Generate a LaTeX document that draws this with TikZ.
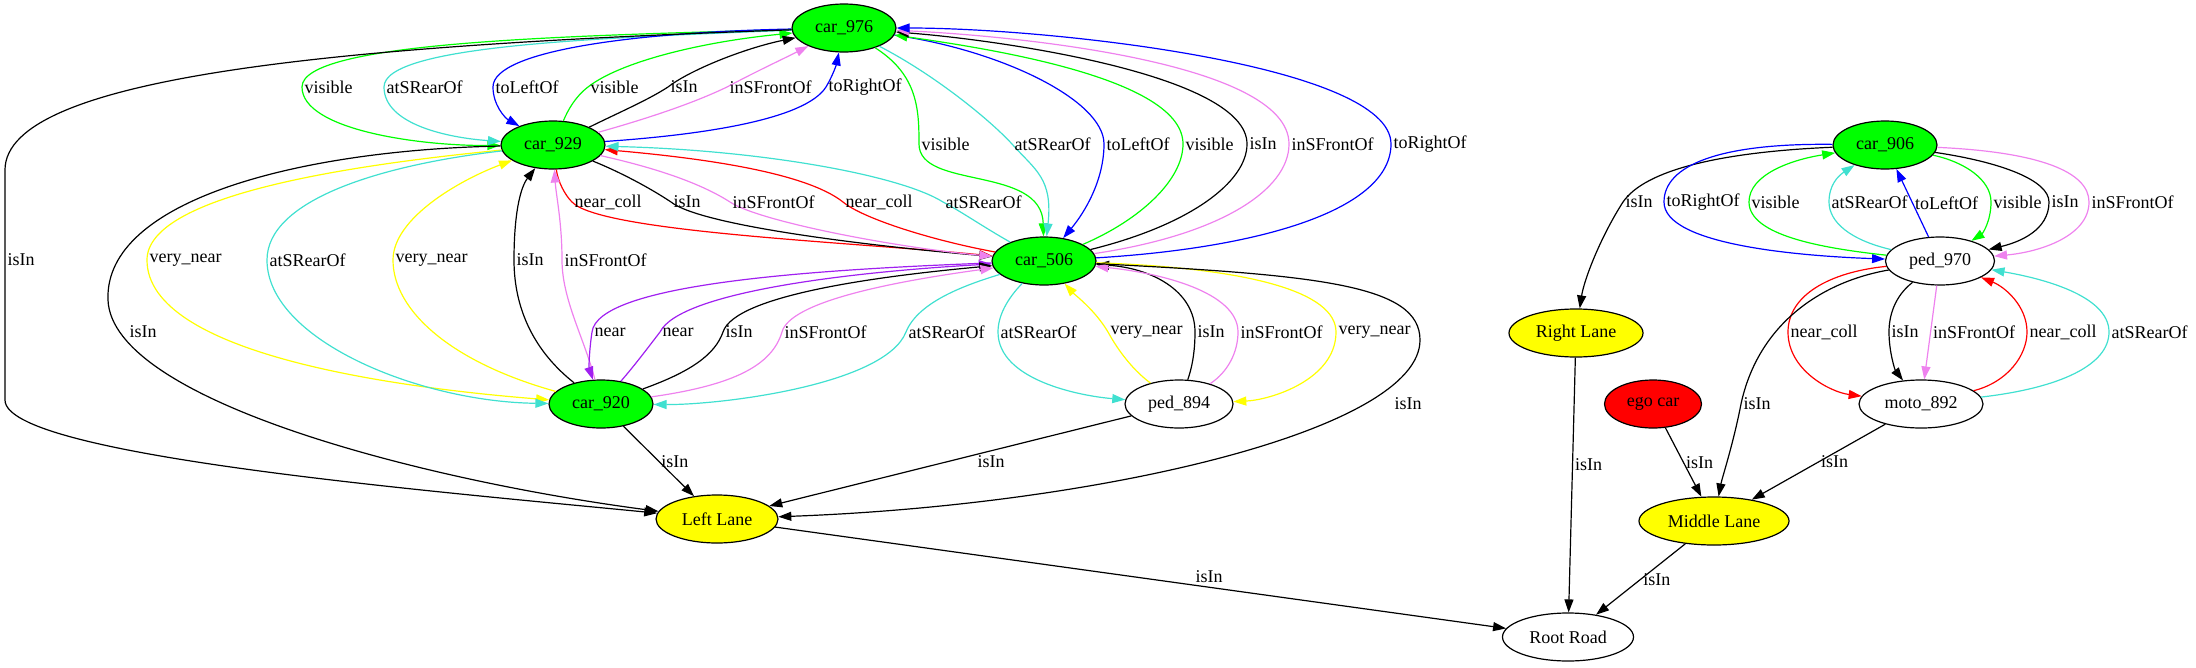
\documentclass[tikz,border=0pt]{standalone}
\usepackage{fontspec}
\setmainfont{Liberation Serif}
\usepackage{xcolor}
\usepackage{tikz}
\usetikzlibrary{shapes}
\usetikzlibrary{arrows.meta}
\definecolor{gvgreen}{HTML}{00FF00}
\definecolor{gvyellow}{HTML}{FFFF00}
\definecolor{gvred}{HTML}{FF0000}
\definecolor{gvblue}{HTML}{0000FF}
\definecolor{gvturq}{HTML}{40E0D0}
\definecolor{gvviolet}{HTML}{EE82EE}
\definecolor{gvpurple}{HTML}{A020F0}
\newcommand{\graphfont}{\fontsize{18}{20}\selectfont}
\tikzset{ scene_obj/.style = {ellipse, draw, line width=1.2pt, minimum height=48pt, inner sep=0pt, font=\graphfont} }
\tikzset{ car_obj/.style = {scene_obj, fill=gvgreen, minimum width=104pt} }
\tikzset{ lane_obj/.style = {scene_obj, fill=gvyellow} }
\tikzset{ rel_label/.style = {anchor=west, inner sep=2pt, text=black, font=\graphfont} }
\tikzset{ >={Triangle[length=13pt,width=9pt]}, every path/.style = {line width=1.2pt} }
\tikzset{ rel_isIn/.style = {black}, rel_visible/.style = {gvgreen}, rel_atSRearOf/.style = {gvturq},
  rel_toLeftOf/.style = {gvblue}, rel_toRightOf/.style = {gvblue}, rel_inSFrontOf/.style = {gvviolet},
  rel_near_coll/.style = {gvred}, rel_very_near/.style = {gvyellow}, rel_near/.style = {gvpurple} }

\begin{document}
\begin{tikzpicture}[x=1pt, y=-1pt]
    \useasboundingbox (0,0) rectangle (2196,667);
    \node[car_obj] (c976) at (844,28) {car\_976};
    \node[car_obj] (c929) at (553,145) {car\_929};
    \node[car_obj] (c506) at (1044,261) {car\_506};
    \node[car_obj] (c920) at (601,404) {car\_920};
    \node[car_obj] (c906) at (1885,145) {car\_906};
    \node[scene_obj, minimum width=108pt] (p894) at (1179,404) {ped\_894};
    \node[scene_obj, minimum width=109pt] (p970) at (1940,261) {ped\_970};
    \node[scene_obj, minimum width=124pt] (m892) at (1921,404) {moto\_892};
    \node[scene_obj, fill=gvred, minimum width=97pt] (ego) at (1653,404) {ego car};
    \node[lane_obj, minimum width=122pt] (LL) at (717,519) {Left Lane};
    \node[lane_obj, minimum width=134pt] (RL) at (1576,333) {Right Lane};
    \node[lane_obj, minimum width=150pt] (ML) at (1714,521) {Middle Lane};
    \node[scene_obj, minimum width=131pt] (RR) at (1568,637) {Root Road};

    \draw[->, rel_visible] (c976) .. controls (560,36) and (302,42) .. (302,87) node[rel_label] {visible} .. controls (302,130) and (420,146) .. (c929);
    \draw[->, rel_atSRearOf] (c976) .. controls (600,38) and (384,45) .. (384,87) node[rel_label] {atSRearOf} .. controls (384,125) and (450,138) .. (c929);
    \draw[->, rel_toLeftOf] (c976) .. controls (640,32) and (493,50) .. (493,87) node[rel_label] {toLeftOf} .. controls (493,105) and (505,118) .. (c929);
    \draw[->, rel_visible] (c929) .. controls (568,110) and (575,97) .. (588,87) node[rel_label] {visible} .. controls (620,62) and (700,42) .. (c976);
    \draw[->, rel_isIn] (c929) .. controls (620,112) and (648,100) .. (668,87) node[rel_label] {isIn} .. controls (690,70) and (745,48) .. (c976);
    \draw[->, rel_inSFrontOf] (c929) .. controls (660,115) and (700,100) .. (727,87) node[rel_label] {inSFrontOf} .. controls (755,72) and (785,58) .. (c976);
    \draw[->, rel_toRightOf] (c929) .. controls (700,135) and (805,120) .. (826,87) node[rel_label] {toRightOf} .. controls (832,77) and (836,66) .. (c976);

    \draw[->, rel_near_coll] (c929) .. controls (558,182) and (565,195) .. (572,202) node[rel_label] {near\_coll} .. controls (600,232) and (850,242) .. (c506);
    \draw[->, rel_isIn] (c929) .. controls (620,172) and (650,188) .. (671,202) node[rel_label] {isIn} .. controls (700,225) and (860,245) .. (c506);
    \draw[->, rel_inSFrontOf] (c929) .. controls (665,170) and (705,186) .. (730,202) node[rel_label] {inSFrontOf} .. controls (760,222) and (900,248) .. (c506);
    \draw[->, rel_near_coll] (c506) .. controls (930,240) and (862,218) .. (843,202) node[rel_label] {near\_coll} .. controls (805,172) and (700,158) .. (c929);
    \draw[->, rel_atSRearOf] (c506) .. controls (985,228) and (962,212) .. (943,202) node[rel_label] {atSRearOf} .. controls (900,175) and (760,150) .. (c929);

    \draw[->, rel_visible] (c976) .. controls (918,75) and (919,110) .. (919,144) node[rel_label] {visible} .. controls (919,190) and (1042,165) .. (c506);
    \draw[->, rel_atSRearOf] (c976) .. controls (935,75) and (990,120) .. (1012,144) node[rel_label] {atSRearOf} .. controls (1035,170) and (1053,178) .. (c506);
    \draw[->, rel_toLeftOf] (c976) .. controls (1000,50) and (1104,100) .. (1104,144) node[rel_label] {toLeftOf} .. controls (1104,180) and (1085,212) .. (c506);
    \draw[->, rel_visible] (c506) .. controls (1140,220) and (1183,180) .. (1183,144) node[rel_label] {visible} .. controls (1183,80) and (1000,50) .. (c976);
    \draw[->, rel_isIn] (c506) .. controls (1190,225) and (1247,182) .. (1247,144) node[rel_label] {isIn} .. controls (1247,75) and (1000,40) .. (c976);
    \draw[->, rel_inSFrontOf] (c506) .. controls (1220,235) and (1289,190) .. (1289,144) node[rel_label] {inSFrontOf} .. controls (1289,60) and (1000,35) .. (c976);
    \draw[->, rel_toRightOf] (c506) .. controls (1260,248) and (1391,210) .. (1391,144) node[rel_label] {toRightOf} .. controls (1391,65) and (1050,28) .. (c976);

    \draw[->, rel_very_near] (c929) .. controls (350,165) and (147,195) .. (147,260) node[rel_label] {very\_near} .. controls (147,355) and (400,388) .. (c920);
    \draw[->, rel_atSRearOf] (c929) .. controls (380,165) and (267,200) .. (267,260) node[rel_label] {atSRearOf} .. controls (267,340) and (420,402) .. (c920);
    \draw[->, rel_very_near] (c920) .. controls (450,362) and (393,310) .. (393,260) node[rel_label] {very\_near} .. controls (393,218) and (460,180) .. (c929);
    \draw[->, rel_isIn] (c920) .. controls (535,352) and (514,310) .. (514,260) node[rel_label] {isIn} .. controls (514,215) and (520,188) .. (c929);
    \draw[->, rel_inSFrontOf] (c920) .. controls (585,340) and (562,300) .. (562,260) node[rel_label] {inSFrontOf} .. controls (562,222) and (556,195) .. (c929);
    \draw[->, rel_isIn] (c929) .. controls (300,150) and (104,200) .. (108,300) .. controls (112,400) and (420,480) .. (LL) node[rel_label, at={(127,332)}] {isIn};
    \draw[->, rel_isIn] (c976) .. controls (350,45) and (5,75) .. (5,170) -- (5,260) node[rel_label] {isIn} -- (5,400) .. controls (5,455) and (420,490) .. (LL);

    \draw[->, rel_near] (c506) .. controls (800,270) and (598,285) .. (592,332) node[rel_label] {near} .. controls (589,352) and (589,368) .. (c920);
    \draw[->, rel_near] (c920) .. controls (635,365) and (650,345) .. (660,332) node[rel_label] {near} .. controls (680,292) and (850,272) .. (c506);
    \draw[->, rel_isIn] (c920) .. controls (690,372) and (715,355) .. (723,332) node[rel_label] {isIn} .. controls (735,295) and (880,276) .. (c506);
    \draw[->, rel_inSFrontOf] (c920) .. controls (735,385) and (772,365) .. (782,332) node[rel_label] {inSFrontOf} .. controls (790,302) and (890,282) .. (c506);
    \draw[->, rel_atSRearOf] (c506) .. controls (965,285) and (918,302) .. (906,332) node[rel_label] {atSRearOf} .. controls (885,385) and (720,405) .. (c920);
    \draw[->, rel_atSRearOf] (c506) .. controls (1008,298) and (998,315) .. (998,332) node[rel_label] {atSRearOf} .. controls (998,380) and (1080,396) .. (p894);
    \draw[->, rel_very_near] (p894) .. controls (1130,368) and (1115,345) .. (1108,332) node[rel_label] {very\_near} .. controls (1095,310) and (1075,295) .. (c506);
    \draw[->, rel_isIn] (p894) .. controls (1193,365) and (1195,348) .. (1195,332) node[rel_label] {isIn} .. controls (1195,290) and (1150,268) .. (c506);
    \draw[->, rel_inSFrontOf] (p894) .. controls (1228,372) and (1238,352) .. (1238,332) node[rel_label] {inSFrontOf} .. controls (1238,292) and (1160,273) .. (c506);
    \draw[->, rel_very_near] (c506) .. controls (1250,268) and (1336,292) .. (1336,332) node[rel_label] {very\_near} .. controls (1336,380) and (1270,400) .. (p894);
    \draw[->, rel_isIn] (c506) .. controls (1320,275) and (1420,285) .. (1420,340) .. controls (1420,430) and (1100,505) .. (LL) node[rel_label, at={(1392,404)}] {isIn};

    \draw[->, rel_isIn] (c920) -- node[rel_label] {isIn} (LL);
    \draw[->, rel_isIn] (p894) -- (LL) node[rel_label, at={(975,462)}] {isIn};
    \draw[->, rel_isIn] (LL) -- (RR) node[rel_label, at={(1193,577)}] {isIn};

    \draw[->, rel_isIn] (c906) .. controls (1720,152) and (1645,170) .. (1623,202) node[rel_label] {isIn} .. controls (1600,238) and (1584,280) .. (RL);
    \draw[->, rel_toRightOf] (c906) .. controls (1720,143) and (1664,165) .. (1664,202) node[rel_label] {toRightOf} .. controls (1664,245) and (1800,256) .. (p970);
    \draw[->, rel_visible] (p970) .. controls (1820,248) and (1749,235) .. (1749,202) node[rel_label] {visible} .. controls (1749,175) and (1790,160) .. (c906);
    \draw[->, rel_atSRearOf] (p970) .. controls (1850,240) and (1829,222) .. (1829,202) node[rel_label] {atSRearOf} .. controls (1829,185) and (1838,176) .. (c906);
    \draw[->, rel_toLeftOf] (p970) -- node[rel_label] {toLeftOf} (c906);
    \draw[->, rel_visible] (c906) .. controls (1965,162) and (1991,180) .. (1991,202) node[rel_label] {visible} .. controls (1991,222) and (1982,234) .. (p970);
    \draw[->, rel_isIn] (c906) .. controls (2000,162) and (2049,180) .. (2049,202) node[rel_label] {isIn} .. controls (2049,230) and (2020,242) .. (p970);
    \draw[->, rel_inSFrontOf] (c906) .. controls (2040,152) and (2089,172) .. (2089,202) node[rel_label] {inSFrontOf} .. controls (2089,236) and (2040,252) .. (p970);

    \draw[->, rel_near_coll] (p970) .. controls (1830,272) and (1788,295) .. (1788,332) node[rel_label] {near\_coll} .. controls (1788,370) and (1830,392) .. (m892);
    \draw[->, rel_isIn] (p970) .. controls (1895,296) and (1889,315) .. (1889,332) node[rel_label] {isIn} .. controls (1889,352) and (1895,370) .. (m892);
    \draw[->, rel_inSFrontOf] (p970) -- node[rel_label] {inSFrontOf} (m892);
    \draw[->, rel_near_coll] (m892) .. controls (2008,382) and (2027,355) .. (2027,332) node[rel_label] {near\_coll} .. controls (2027,306) and (2005,287) .. (p970);
    \draw[->, rel_atSRearOf] (m892) .. controls (2060,388) and (2109,365) .. (2109,332) node[rel_label] {atSRearOf} .. controls (2109,295) and (2040,278) .. (p970);
    \draw[->, rel_isIn] (p970) .. controls (1820,282) and (1758,325) .. (1741,404) node[rel_label] {isIn} .. controls (1733,445) and (1722,478) .. (ML);
    \draw[->, rel_isIn] (ego) -- node[rel_label] {isIn} (ML);
    \draw[->, rel_isIn] (m892) -- node[rel_label] {isIn} (ML);
    \draw[->, rel_isIn] (RL) -- node[rel_label, pos=0.42] {isIn} (RR);
    \draw[->, rel_isIn] (ML) -- node[rel_label] {isIn} (RR);
\end{tikzpicture}
\end{document}
